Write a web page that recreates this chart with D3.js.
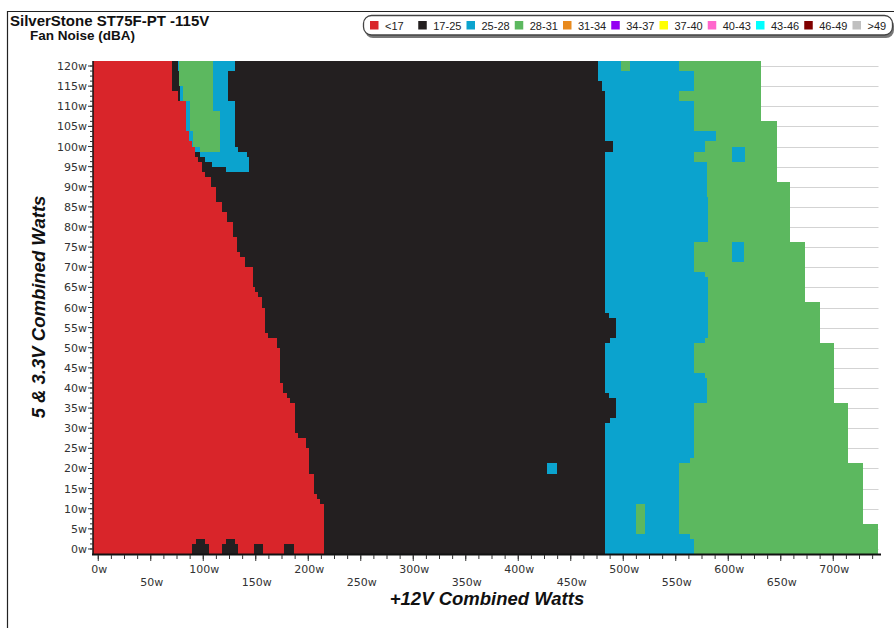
<!DOCTYPE html>
<html lang="en">
<head>
    <meta charset="UTF-8">
    <script src="https://d3js.org/d3.v7.min.js"></script>
    <title>SilverStone ST75F-PT Fan Noise</title>
    <style>
        body { margin: 0; background: #fff; }
        svg { display: block; }
        text { font-family: "Liberation Sans", Arial, sans-serif; }
        .tick-label { font-family: "DejaVu Sans", sans-serif; font-size: 11px; fill: #333; }
    </style>
</head>
<body>
<script>
// legend categories (dBA)
const categories = ["<17", "17-25", "25-28", "28-31", "31-34", "34-37", "37-40", "40-43", "43-46", "46-49", ">49"];
const catColors  = ["#d9252a", "#231f20", "#0ba3ce", "#5cb85f", "#e88a1e", "#9400f2", "#ffff00", "#ff66cc", "#00ffff", "#800000", "#c0c0c0"];

// bands: [5V low, 5V high, +12V edge] in watts; each colour fills from the left edge up to its edge
const greenEdge = [
    [106.25, 121.25, 631.5], [91.25, 106.25, 646], [76.25, 91.25, 659], [61.25, 76.25, 673],
    [51.25, 61.25, 687], [36.25, 51.25, 701], [21.25, 36.25, 714], [6.25, 21.25, 728.5], [-1.25, 6.25, 743]
];
const blueEdge = [
    [118.75, 121.25, 553], [113.75, 118.75, 567], [111.25, 113.75, 553], [103.75, 111.25, 567],
    [101.25, 103.75, 588], [98.75, 101.25, 578], [96.25, 98.75, 567], [87.5, 96.25, 580],
    [76.25, 87.5, 581], [68.75, 76.25, 567], [67.5, 68.75, 578], [52.5, 67.5, 581],
    [51.25, 52.5, 578], [43.75, 51.25, 567], [42.5, 43.75, 578], [36.25, 42.5, 580],
    [22.5, 36.25, 567], [21.25, 22.5, 564], [3.75, 21.25, 553], [2.5, 3.75, 564], [-1.25, 2.5, 567]
];
const blackEdge = [
    [-1.25, 31.25, 483], [31.25, 32.5, 487], [32.5, 37.5, 493], [37.5, 38.75, 486],
    [38.75, 51.25, 483], [51.25, 52.5, 487], [52.5, 57.5, 493], [57.5, 58.75, 486],
    [58.75, 98.75, 483], [98.75, 101.25, 490], [101.25, 113.75, 483], [113.75, 116.25, 480],
    [116.25, 121.25, 476]
];
const redEdge = [
    [113.75, 121.25, 70], [111.25, 113.75, 76], [103.75, 111.25, 84], [101.25, 103.75, 86],
    [100, 101.25, 89.5], [97.5, 100, 92.5], [96.25, 97.5, 95], [93.75, 96.25, 99],
    [92.5, 93.75, 102], [90, 92.5, 107], [86.25, 90, 112], [83.75, 86.25, 118],
    [81.25, 83.75, 123], [77.5, 81.25, 128], [73.75, 77.5, 132], [72.5, 73.75, 135],
    [70, 72.5, 140], [65, 70, 147], [63.75, 65, 149.5], [62.5, 63.75, 152],
    [60, 62.5, 156], [53.75, 60, 159], [52.5, 53.75, 162], [50, 52.5, 170.5],
    [41.25, 50, 173], [38.75, 41.25, 176], [37.5, 38.75, 180], [36.25, 37.5, 183],
    [28.75, 36.25, 187.5], [27.5, 28.75, 190.5], [25, 27.5, 198], [18.75, 25, 201],
    [13.75, 18.75, 205], [12.5, 13.75, 208.5], [11.25, 12.5, 211.5], [-1.25, 11.25, 215]
];

// patches: [category index, 5V low, 5V high, +12V from, +12V to]
const islandPatches = [
    [2, 118.75, 121.25, 76, 130.5], [2, 111.25, 118.75, 78, 124], [2, 100, 111.25, 84, 130.5],
    [2, 98.75, 100, 92, 133], [2, 97.5, 98.75, 97, 141.5], [2, 96.25, 97.5, 102, 143.5],
    [2, 95, 96.25, 108, 143.5], [2, 93.75, 95, 122, 143.5],
    [3, 115, 121.25, 77, 109.5], [3, 111.25, 115, 81, 109.5], [3, 108.75, 111.25, 87.5, 109.5],
    [3, 103.75, 108.75, 87.5, 116], [3, 100, 103.75, 90, 116], [3, 98.75, 100, 97, 116]
];
const spotPatches = [
    [3, 118.75, 121.25, 498, 506.5], [3, 3.75, 11.25, 512, 520.5],
    [2, 96.25, 100, 604, 616], [2, 71.25, 76.25, 604, 615],
    [2, 18.75, 21.25, 427.5, 437]
];
const redBumps = [
    [1, -1.25, 1.25, 89.5, 105.5], [1, -1.25, 1.25, 118, 133], [1, -1.25, 1.25, 148.5, 157],
    [1, -1.25, 1.25, 177, 186], [1, 1.25, 2.5, 93.5, 102], [1, 1.25, 2.5, 122, 130.5]
];

const xTicks = [0, 50, 100, 150, 200, 250, 300, 350, 400, 450, 500, 550, 600, 650, 700];
const yTicks = [0, 5, 10, 15, 20, 25, 30, 35, 40, 45, 50, 55, 60, 65, 70, 75, 80, 85, 90, 95, 100, 105, 110, 115, 120];

const W = 894, H = 628;
const xMin = -5, xMax = 745;
const x = d3.scaleLinear().domain([xMin, xMax]).range([93, 880.5]);
const y = d3.scaleLinear().domain([-1.25, 121.25]).range([554, 61]);

const svg = d3.select('body').append('svg').attr('width', W).attr('height', H);

// outer frame
svg.append('path').attr('d', `M7.5,${H} V11.5 H${W}`)
    .attr('fill', 'none').attr('stroke', '#222').attr('stroke-width', 1.2);

// titles
svg.append('text').attr('x', 10).attr('y', 26).attr('font-size', 15).attr('font-weight', 'bold')
    .attr('fill', '#111').text('SilverStone ST75F-PT -115V');
svg.append('text').attr('x', 30).attr('y', 40).attr('font-size', 13.5).attr('font-weight', 'bold')
    .attr('fill', '#111').text('Fan Noise (dBA)');

// legend
const legend = svg.append('g');
legend.append('rect').attr('x', 365).attr('y', 18).attr('width', 529).attr('height', 20).attr('rx', 8)
    .attr('fill', '#777');
legend.append('rect').attr('x', 363.5).attr('y', 15.5).attr('width', 529).attr('height', 19.5).attr('rx', 8)
    .attr('fill', '#fff').attr('stroke', '#444').attr('stroke-width', 1.3);
const item = legend.selectAll('g.item').data(categories).join('g')
    .attr('class', 'item')
    .attr('transform', (d, i) => `translate(${370 + i * 48.25},0)`);
item.append('rect').attr('x', 0).attr('y', 21).attr('width', 8.5).attr('height', 8.5)
    .attr('fill', (d, i) => catColors[i]);
item.append('text').attr('x', 15).attr('y', 29.5).attr('font-size', 11).attr('fill', '#222').text(d => d);

const plot = svg.append('g');

// horizontal grid lines
plot.append('g').selectAll('line').data(yTicks).join('line')
    .attr('x1', x(xMin)).attr('x2', x(xMax) - 2)
    .attr('y1', d => Math.round(y(d)) + 0.5).attr('y2', d => Math.round(y(d)) + 0.5)
    .attr('stroke', '#d3d3d3').attr('stroke-width', 1);

function drawEdge(rows, color) {
    plot.append('g').selectAll('rect').data(rows).join('rect')
        .attr('shape-rendering', 'crispEdges')
        .attr('x', x(xMin))
        .attr('y', d => y(d[1]))
        .attr('width', d => x(d[2]) - x(xMin))
        .attr('height', d => y(d[0]) - y(d[1]))
        .attr('fill', color);
}
function drawPatches(rows) {
    plot.append('g').selectAll('rect').data(rows).join('rect')
        .attr('shape-rendering', 'crispEdges')
        .attr('x', d => x(d[3]))
        .attr('y', d => y(d[2]))
        .attr('width', d => x(d[4]) - x(d[3]))
        .attr('height', d => y(d[1]) - y(d[2]))
        .attr('fill', d => catColors[d[0]]);
}

drawEdge(greenEdge, catColors[3]);
drawEdge(blueEdge, catColors[2]);
drawPatches(spotPatches.filter(d => d[0] === 2 && d[3] > 590));
drawPatches(spotPatches.filter(d => d[0] === 3));
drawEdge(blackEdge, catColors[1]);
drawPatches(spotPatches.filter(d => d[0] === 2 && d[3] < 590));
drawPatches(islandPatches);
drawEdge(redEdge, catColors[0]);
drawPatches(redBumps);

// y axis
const yAxis = svg.append('g');
yAxis.append('line').attr('x1', 93).attr('x2', 93).attr('y1', 61).attr('y2', 555)
    .attr('stroke', '#111').attr('stroke-width', 1.5);
yAxis.selectAll('line.minor').data(d3.range(0, 121.25, 1.25)).join('line')
    .attr('class', 'minor')
    .attr('x1', 90).attr('x2', 93)
    .attr('y1', d => y(d)).attr('y2', d => y(d))
    .attr('stroke', '#333').attr('stroke-width', 1);
yAxis.selectAll('line.major').data(yTicks).join('line')
    .attr('class', 'major')
    .attr('x1', 88).attr('x2', 93)
    .attr('y1', d => y(d)).attr('y2', d => y(d))
    .attr('stroke', '#333').attr('stroke-width', 1);
yAxis.selectAll('text').data(yTicks).join('text')
    .attr('class', 'tick-label')
    .attr('x', 87).attr('y', d => y(d) + 4)
    .attr('text-anchor', 'end')
    .text(d => d + 'w');

// x axis
const xAxis = svg.append('g');
xAxis.append('line').attr('x1', 92).attr('x2', 881).attr('y1', 554.5).attr('y2', 554.5)
    .attr('stroke', '#111').attr('stroke-width', 1.8);
xAxis.selectAll('line.minor').data(d3.range(0, 740, 12.5)).join('line')
    .attr('class', 'minor')
    .attr('x1', d => x(d)).attr('x2', d => x(d))
    .attr('y1', 555).attr('y2', 559)
    .attr('stroke', '#333').attr('stroke-width', 1);
xAxis.selectAll('line.major').data(xTicks).join('line')
    .attr('class', 'major')
    .attr('x1', d => x(d)).attr('x2', d => x(d))
    .attr('y1', 555).attr('y2', 561)
    .attr('stroke', '#333').attr('stroke-width', 1);
xAxis.selectAll('text').data(xTicks).join('text')
    .attr('class', 'tick-label')
    .attr('x', d => x(d) + 1)
    .attr('y', (d, i) => i % 2 === 0 ? 573 : 586)
    .attr('text-anchor', 'middle')
    .text(d => d + 'w');

// axis titles
svg.append('text').attr('x', 487).attr('y', 605).attr('text-anchor', 'middle')
    .attr('font-size', 18.5).attr('font-weight', 'bold').attr('font-style', 'italic')
    .attr('fill', '#111').text('+12V Combined Watts');
svg.append('text').attr('transform', 'translate(45,307) rotate(-90)').attr('text-anchor', 'middle')
    .attr('font-size', 18.5).attr('font-weight', 'bold').attr('font-style', 'italic')
    .attr('fill', '#111').text('5 & 3.3V Combined Watts');
</script>
</body>
</html>
